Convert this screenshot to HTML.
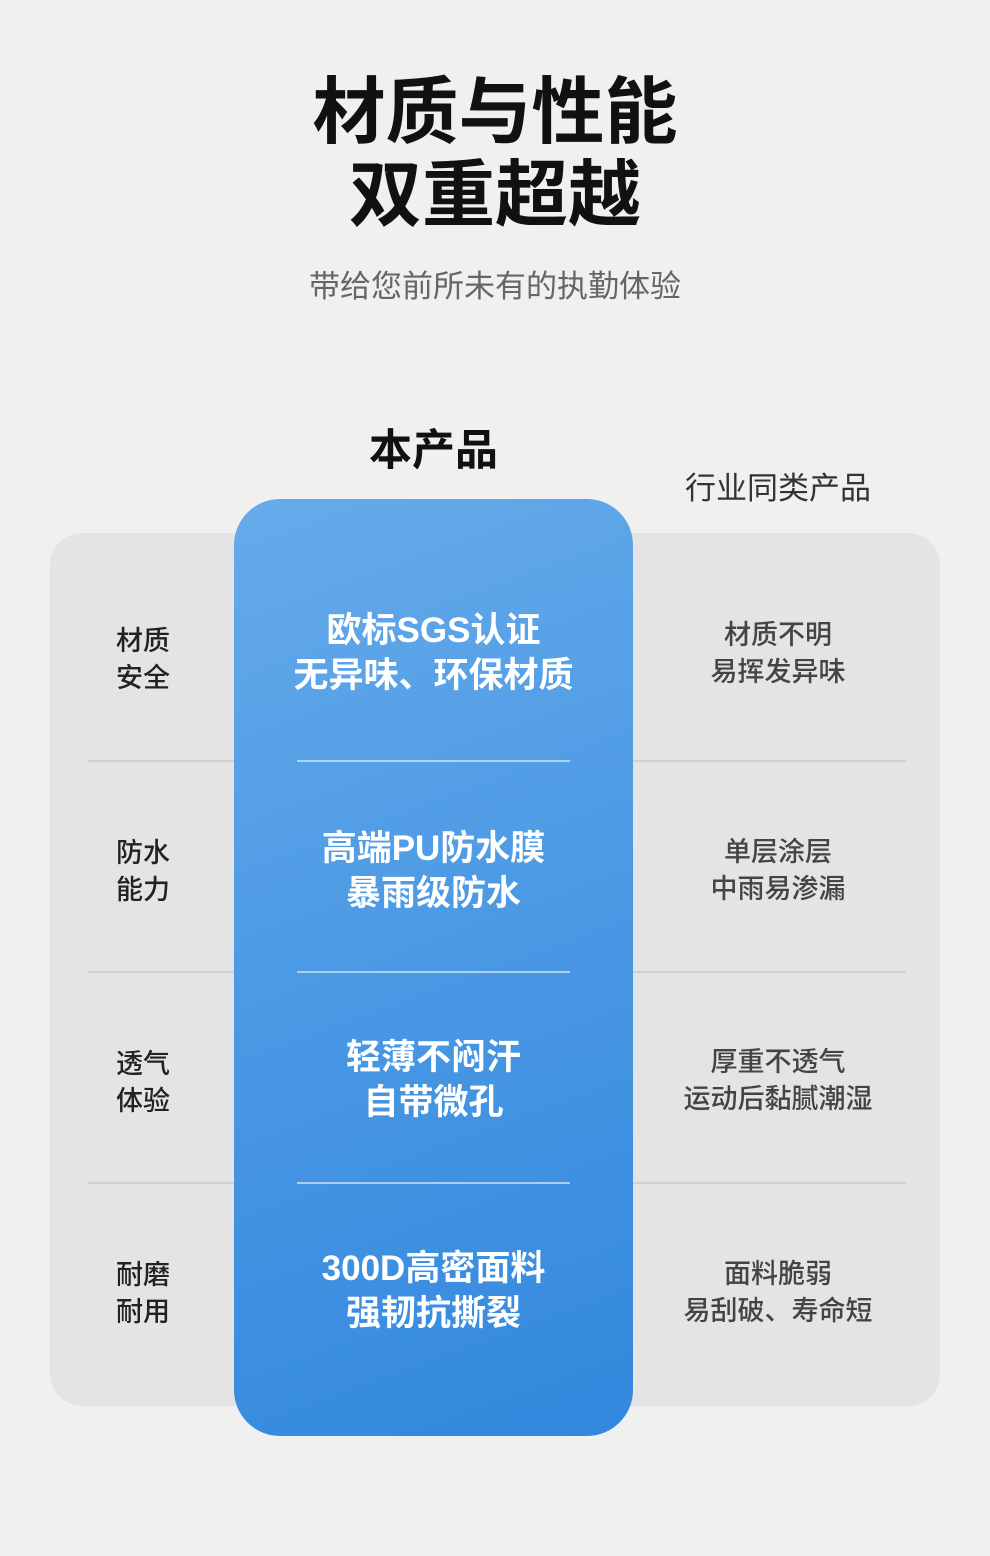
<!DOCTYPE html>
<html><head><meta charset="utf-8"><style>
body{margin:0;width:990px;height:1556px;background:#f0f0f0;position:relative;overflow:hidden;font-family:"Liberation Sans","Noto Sans CJK SC",sans-serif}
.a{position:absolute}
.t{left:0;width:990px;text-align:center;font-weight:700;font-size:73px;color:#111;line-height:84px}
.panel{left:50px;top:533px;width:890px;height:873px;background:#e4e4e4;border-radius:32px}
.blue{left:234px;top:499px;width:399px;height:937px;border-radius:46px;background:linear-gradient(160deg,#66abea 0%,#4a98e4 50%,#3288dd 100%)}
.hl{height:2px;background:#d0d0d0}
.bl{left:297px;width:273px;height:2px;background:rgba(255,255,255,0.55)}
.lab{left:116px;font-size:27px;color:#222;line-height:37px;font-weight:500}
.bt{left:234px;width:399px;text-align:center;color:#fff;font-weight:700;font-size:35px;line-height:45px}
.rt{left:633px;width:290px;text-align:center;color:#444;font-size:27px;line-height:37px;font-weight:500}
</style></head><body>
<div class="a t" style="top:71px">材质与性能</div>
<div class="a t" style="top:154px">双重超越</div>
<div class="a" style="top:261px;left:0;width:990px;text-align:center;font-size:31px;color:#666">带给您前所未有的执勤体验</div>
<div class="a" style="top:416px;left:234px;width:399px;text-align:center;font-size:43px;font-weight:700;color:#111">本产品</div>
<div class="a" style="top:463px;left:633px;width:290px;text-align:center;font-size:31px;color:#333">行业同类产品</div>
<div class="a panel"></div>
<div class="a hl" style="left:88px;width:146px;top:760px"></div>
<div class="a hl" style="left:633px;width:273px;top:760px"></div>
<div class="a hl" style="left:88px;width:146px;top:971px"></div>
<div class="a hl" style="left:633px;width:273px;top:971px"></div>
<div class="a hl" style="left:88px;width:146px;top:1182px"></div>
<div class="a hl" style="left:633px;width:273px;top:1182px"></div>
<div class="a blue"></div>
<div class="a bl" style="top:760px"></div>
<div class="a bl" style="top:971px"></div>
<div class="a bl" style="top:1182px"></div>

<div class="a lab" style="top:623px">材质<br>安全</div>
<div class="a bt" style="top:608px">欧标SGS认证<br>无异味、环保材质</div>
<div class="a rt" style="top:617px">材质不明<br>易挥发异味</div>

<div class="a lab" style="top:835px">防水<br>能力</div>
<div class="a bt" style="top:826px">高端PU防水膜<br>暴雨级防水</div>
<div class="a rt" style="top:834px">单层涂层<br>中雨易渗漏</div>

<div class="a lab" style="top:1046px">透气<br>体验</div>
<div class="a bt" style="top:1035px">轻薄不闷汗<br>自带微孔</div>
<div class="a rt" style="top:1044px">厚重不透气<br>运动后黏腻潮湿</div>

<div class="a lab" style="top:1257px">耐磨<br>耐用</div>
<div class="a bt" style="top:1246px">300D高密面料<br>强韧抗撕裂</div>
<div class="a rt" style="top:1256px">面料脆弱<br>易刮破、寿命短</div>
</body></html>
